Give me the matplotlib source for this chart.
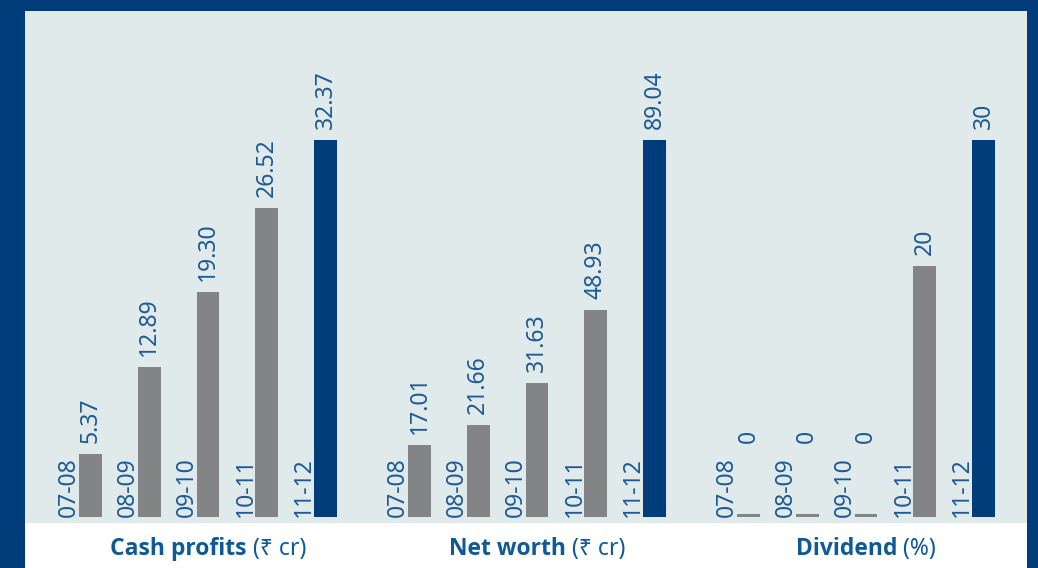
import matplotlib
matplotlib.use("Agg")
import matplotlib.pyplot as plt
from matplotlib.patches import Rectangle
from matplotlib import font_manager

plt.rcParams['font.family'] = ['Noto Sans', 'DejaVu Sans']

years = ["07-08", "08-09", "09-10", "10-11", "11-12"]
cash_profits = [5.37, 12.89, 19.30, 26.52, 32.37]
net_worth = [17.01, 21.66, 31.63, 48.93, 89.04]
dividend = [0, 0, 0, 20, 30]
cash_labels = ["5.37", "12.89", "19.30", "26.52", "32.37"]
net_labels = ["17.01", "21.66", "31.63", "48.93", "89.04"]
div_labels = ["0", "0", "0", "20", "30"]
titles_bold = ["Cash profits", "Net worth", "Dividend"]
titles_norm = ["(\u20b9 cr)", "(\u20b9 cr)", "(%)"]

W, H = 1038, 568
FRAME = "#003d7a"
BG = "#e1eaeb"
GRAY = "#838485"
TXT = "#1d5a96"
TITLE = "#0e5a98"

bold_family = None
for fam in ['Open Sans', 'Noto Sans', 'Lato', 'Roboto', 'DejaVu Sans']:
    for f in font_manager.fontManager.ttflist:
        if f.name == fam and (f.weight in ('bold', 700) or (isinstance(f.weight, int) and f.weight >= 700)):
            bold_family = fam
            break
    if bold_family:
        break
if bold_family is None:
    bold_family = 'DejaVu Sans'

fig = plt.figure(figsize=(W / 100, H / 100), dpi=100)
fig.patch.set_facecolor(FRAME)

def fx(px):
    return px / W

def fy(py):
    return 1 - py / H

fig.add_artist(Rectangle((fx(25), fy(523)), fx(1027 - 25), (523 - 11) / H,
                         transform=fig.transFigure, facecolor=BG, edgecolor='none', zorder=0))
fig.add_artist(Rectangle((fx(25), 0), fx(1027 - 25), (568 - 523) / H,
                         transform=fig.transFigure, facecolor='white', edgecolor='none', zorder=0))

base_px = 517
top_px = 140
ax_top_px = 11
panel_lefts = [61.1, 390.1, 719.1]
panel_w = 293.75
series = [cash_profits, net_worth, dividend]
labels = [cash_labels, net_labels, div_labels]
LBL = 16.5

for i, (vals, labs) in enumerate(zip(series, labels)):
    ax = fig.add_axes([fx(panel_lefts[i]), fy(base_px), fx(panel_w), (base_px - ax_top_px) / H])
    ax.set_facecolor('none')
    for s in ax.spines.values():
        s.set_visible(False)
    ax.set_xticks([])
    ax.set_yticks([])
    vmax = max(vals)
    ymax = vmax * (base_px - ax_top_px) / (base_px - top_px)
    ax.set_xlim(-0.5, 4.5)
    ax.set_ylim(0, ymax)
    per_px = vmax / (base_px - top_px)
    heights = [v if v > 0 else 3.5 * per_px for v in vals]
    colors = [GRAY] * 4 + [FRAME]
    ax.bar(range(5), heights, width=0.39, color=colors, edgecolor='none', zorder=2)
    for j, (v, lab) in enumerate(zip(vals, labs)):
        off = 8 if v > 0 else 53
        ax.annotate(lab, (j, v), xytext=(0, off), textcoords='offset points',
                    rotation=90, ha='center', va='bottom', fontsize=LBL, color=TXT)
        ax.text(j - 0.36, 0, years[j], rotation=90, ha='center', va='bottom',
                fontsize=LBL, color=TXT)

fig.canvas.draw()
renderer = fig.canvas.get_renderer()
title_y = fy(549)
for i in range(3):
    cx = fx(panel_lefts[i] + panel_w / 2)
    tb = fig.text(0, title_y, titles_bold[i], fontsize=16.5, fontweight='bold', color=TITLE,
                  ha='left', va='center', family=[bold_family, 'DejaVu Sans'])
    tn = fig.text(0, title_y, " " + titles_norm[i], fontsize=16.5, color=TITLE,
                  ha='left', va='center', family=['Noto Sans', 'DejaVu Sans'])
    wb = tb.get_window_extent(renderer).width / W
    wn = tn.get_window_extent(renderer).width / W
    start = cx - (wb + wn) / 2
    tb.set_x(start)
    tn.set_x(start + wb)

fig.savefig("out.png", dpi=100, facecolor=fig.get_facecolor())
